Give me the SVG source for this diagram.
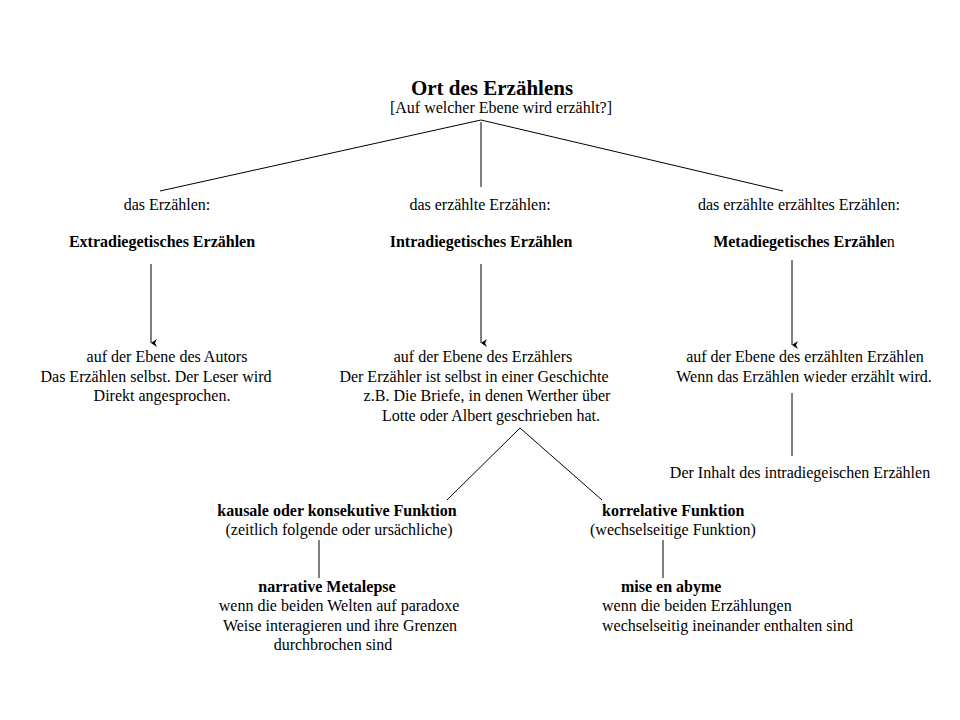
<svg xmlns="http://www.w3.org/2000/svg" width="960" height="720" viewBox="0 0 960 720">
<style>
text{font-family:"Liberation Serif","Times New Roman",serif;font-size:16px;fill:#000}
.b{font-weight:bold}
.t{font-size:21px;font-weight:bold}
.m{text-anchor:middle}
.c{stroke:#000;stroke-width:1;fill:none}
</style>
<defs>
<marker id="ah" viewBox="0 0 10 10" refX="5" refY="9" markerWidth="10" markerHeight="10" markerUnits="userSpaceOnUse" orient="auto-start-reverse">
<path d="M1,3 L5,9 L9,3 L5,5 Z" fill="#000"/>
</marker>
</defs>
<rect width="960" height="720" fill="#fff"/>
<g id="connectors">
<polyline class="c" points="160,191 481,120 783,191"/>
<line class="c" x1="481" y1="122" x2="481" y2="187"/>
<line class="c" x1="151" y1="264" x2="151" y2="343" marker-end="url(#ah)"/>
<line class="c" x1="481" y1="264" x2="481" y2="343" marker-end="url(#ah)"/>
<line class="c" x1="792" y1="260" x2="792" y2="345" marker-end="url(#ah)"/>
<line class="c" x1="792" y1="393" x2="792" y2="456"/>
<polyline class="c" points="447,500 520,428 602,500"/>
<line class="c" x1="319" y1="540" x2="319" y2="578"/>
<line class="c" x1="663" y1="540" x2="663" y2="578"/>
</g>
<g id="root">
<text class="t m" x="492" y="95">Ort des Erzählens</text>
<text class="m" x="501" y="113">[Auf welcher Ebene wird erzählt?]</text>
</g>
<g id="extra">
<text class="m" x="167" y="210">das Erzählen:</text>
<text class="b m" x="162" y="247">Extradiegetisches Erzählen</text>
</g>
<g id="intra">
<text class="m" x="480" y="210">das erzählte Erzählen:</text>
<text class="b m" x="481" y="247">Intradiegetisches Erzählen</text>
</g>
<g id="meta">
<text class="m" x="799" y="210">das erzählte erzähltes Erzählen:</text>
<text class="m" x="804" y="247"><tspan class="b">Metadiegetisches Erzähle</tspan>n</text>
</g>
<g id="autor">
<text class="m" x="167" y="362">auf der Ebene des Autors</text>
<text class="m" x="156" y="382">Das Erzählen selbst. Der Leser wird</text>
<text class="m" x="162" y="401">Direkt angesprochen.</text>
</g>
<g id="erzaehler">
<text class="m" x="483" y="362">auf der Ebene des Erzählers</text>
<text class="m" x="474" y="382">Der Erzähler ist selbst in einer Geschichte</text>
<text class="m" x="487" y="401">z.B. Die Briefe, in denen Werther über</text>
<text class="m" x="491" y="421">Lotte oder Albert geschrieben hat.</text>
</g>
<g id="erzaehltes">
<text class="m" x="805" y="362">auf der Ebene des erzählten Erzählen</text>
<text class="m" x="804" y="382">Wenn das Erzählen wieder erzählt wird.</text>
</g>
<g id="inhalt">
<text class="m" x="800" y="478">Der Inhalt des intradiegeischen Erzählen</text>
</g>
<g id="kausal">
<text class="b m" x="337" y="516">kausale oder konsekutive Funktion</text>
<text class="m" x="339" y="535">(zeitlich folgende oder ursächliche)</text>
</g>
<g id="korrelativ">
<text class="b" x="602" y="516">korrelative Funktion</text>
<text x="590" y="535">(wechselseitige Funktion)</text>
</g>
<g id="metalepse">
<text class="b m" x="327" y="592">narrative Metalepse</text>
<text class="m" x="339" y="611">wenn die beiden Welten auf paradoxe</text>
<text class="m" x="340" y="631">Weise interagieren und ihre Grenzen</text>
<text class="m" x="333" y="650">durchbrochen sind</text>
</g>
<g id="abyme">
<text class="b" x="621" y="592">mise en abyme</text>
<text x="602" y="611">wenn die beiden Erzählungen</text>
<text x="602" y="631">wechselseitig ineinander enthalten sind</text>
</g>
</svg>
